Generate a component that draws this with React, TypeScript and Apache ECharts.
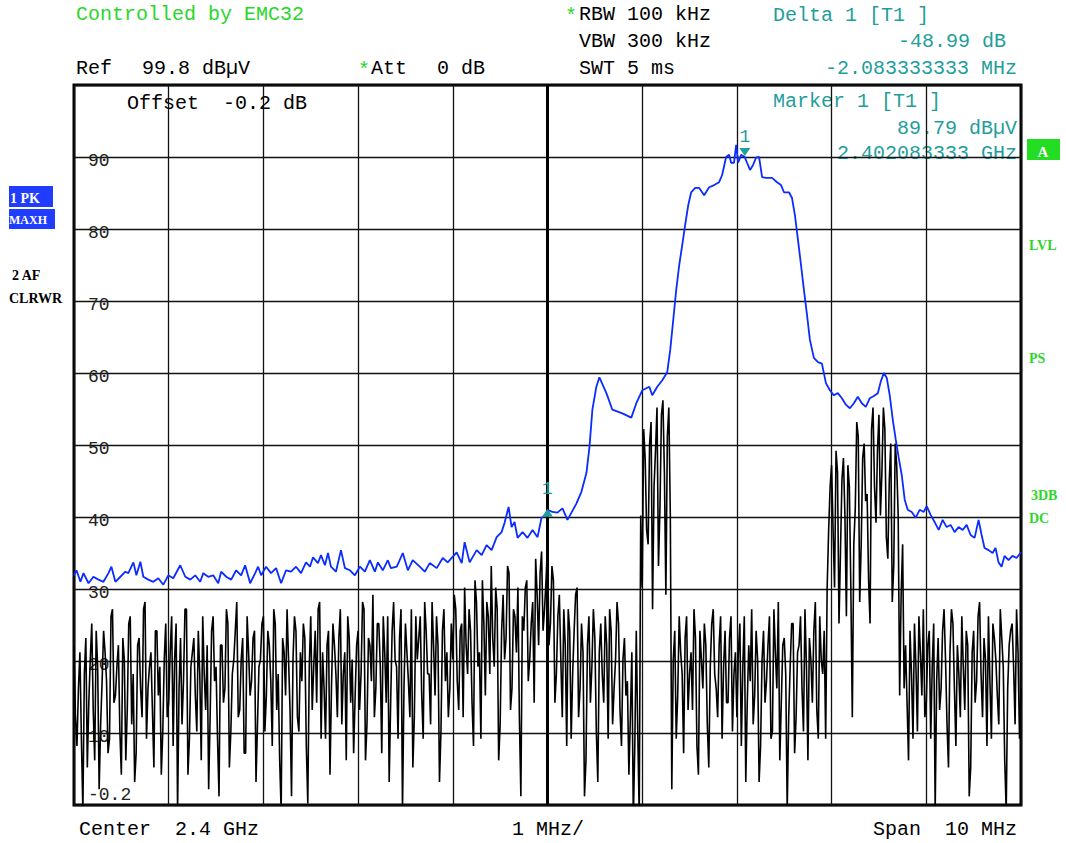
import React, { useEffect, useRef } from 'react';
import * as echarts from 'echarts';

const MONO = '"Liberation Mono", "DejaVu Sans Mono", monospace';
const GREEN = '#2bd62b';
const TEAL = '#1f9e9c';
const BLUE = '#0a2cff';

// Trace 1 (PK, MAXH) — frequency offset from centre in MHz, level in dBµV
const blueFreqMHz = [
  -5.0, -4.974, -4.932, -4.9, -4.847, -4.795, -4.742, -4.689, -4.636, -4.605, -4.563, -4.51, -4.457, -4.426,
  -4.373, -4.341, -4.299, -4.268, -4.215, -4.162, -4.11, -4.057, -4.004, -3.952, -3.878, -3.825, -3.772, -3.72,
  -3.667, -3.635, -3.583, -3.53, -3.477, -3.446, -3.393, -3.34, -3.288, -3.235, -3.193, -3.14, -3.087, -3.056,
  -3.024, -2.972, -2.919, -2.866, -2.813, -2.761, -2.708, -2.655, -2.603, -2.55, -2.508, -2.476, -2.424, -2.392,
  -2.35, -2.318, -2.287, -2.234, -2.181, -2.139, -2.086, -2.034, -1.981, -1.928, -1.876, -1.823, -1.791, -1.739,
  -1.686, -1.654, -1.591, -1.528, -1.475, -1.423, -1.349, -1.296, -1.243, -1.17, -1.106, -1.054, -0.959, -0.906,
  -0.875, -0.822, -0.748, -0.695, -0.643, -0.59, -0.537, -0.485, -0.453, -0.411, -0.379, -0.348, -0.316, -0.263,
  -0.211, -0.158, -0.105, -0.063, -0.011, 0.0, 0.053, 0.105, 0.158, 0.211, 0.253, 0.306, 0.358, 0.411, 0.443,
  0.474, 0.516, 0.548, 0.622, 0.685, 0.79, 0.885, 0.938, 1.001, 1.075, 1.106, 1.159, 1.212, 1.264, 1.296, 1.328,
  1.359, 1.391, 1.423, 1.454, 1.486, 1.517, 1.56, 1.602, 1.654, 1.707, 1.76, 1.812, 1.844, 1.886, 1.918, 1.939,
  1.97, 1.992, 2.013, 2.044, 2.083, 2.107, 2.139, 2.171, 2.202, 2.234, 2.266, 2.308, 2.371, 2.424, 2.466, 2.497,
  2.55, 2.582, 2.613, 2.645, 2.677, 2.708, 2.74, 2.771, 2.813, 2.856, 2.898, 2.94, 2.982, 3.024, 3.066, 3.109,
  3.151, 3.193, 3.235, 3.277, 3.319, 3.361, 3.404, 3.446, 3.488, 3.519, 3.551, 3.583, 3.614, 3.646, 3.678, 3.709,
  3.741, 3.772, 3.804, 3.846, 3.888, 3.93, 3.973, 4.004, 4.046, 4.088, 4.131, 4.173, 4.215, 4.257, 4.299, 4.341,
  4.384, 4.426, 4.468, 4.51, 4.552, 4.584, 4.615, 4.658, 4.7, 4.731, 4.763, 4.795, 4.826, 4.868, 4.91, 4.953, 5.0,
];
const blueLevel = [
  31.7, 32.4, 30.8, 32.0, 30.6, 31.5, 31.1, 30.8, 32.0, 32.9, 30.8, 31.5, 32.2, 32.0,
  33.5, 31.7, 33.6, 31.5, 31.1, 30.8, 31.3, 30.4, 31.7, 31.3, 33.1, 31.5, 31.1, 31.7,
  30.8, 32.0, 31.5, 31.7, 30.6, 32.2, 31.5, 31.1, 32.4, 31.7, 33.1, 30.6, 32.0, 32.9,
  31.7, 32.9, 32.0, 32.7, 30.6, 32.4, 32.2, 32.9, 32.0, 33.5, 32.9, 34.2, 33.4, 34.5,
  33.1, 34.8, 32.9, 32.2, 35.2, 32.7, 32.4, 31.7, 32.9, 32.2, 33.8, 32.2, 33.5, 32.4,
  33.8, 32.7, 32.9, 34.8, 32.4, 33.8, 32.9, 32.2, 33.4, 32.7, 34.1, 33.5, 34.9, 33.4,
  36.3, 33.5, 35.2, 34.5, 35.9, 35.2, 37.0, 37.7, 39.0, 41.2, 38.4, 39.1, 36.9, 37.7,
  36.9, 38.0, 37.0, 39.7, 40.1, 40.8, 40.5, 40.4, 41.0, 39.4, 40.4, 41.7, 43.3, 45.9, 49.5,
  54.7, 57.9, 59.2, 57.0, 54.7, 54.2, 53.6, 55.6, 57.4, 57.9, 56.7, 57.9, 58.8, 59.9, 63.0, 67.2,
  71.3, 74.8, 77.6, 80.4, 83.1, 84.9, 85.5, 85.5, 84.5, 85.6, 85.9, 86.3, 87.3, 89.8, 90.1, 89.0,
  89.0, 91.5, 89.0, 90.1, 89.79, 89.0, 88.0, 88.7, 89.7, 89.8, 87.0, 86.9, 86.9, 86.3, 85.9, 84.9,
  84.9, 84.1, 81.7, 78.3, 74.8, 71.3, 67.9, 64.4, 61.9, 61.3, 61.1, 58.4, 57.4, 56.7, 57.0, 56.3,
  55.4, 54.9, 55.6, 56.5, 55.6, 55.1, 56.3, 56.6, 57.0, 58.6, 59.8, 59.1, 56.7, 53.3, 50.5, 48.0,
  45.6, 42.2, 40.8, 40.5, 39.7, 40.8, 40.5, 41.3, 40.1, 39.1, 38.0, 39.4, 38.4, 38.7, 37.7, 38.4,
  38.0, 38.7, 37.3, 36.9, 39.4, 37.3, 35.5, 35.2, 34.8, 35.5, 33.5, 32.9, 34.4, 33.8, 34.4, 34.1, 34.9,
];

// Trace 2 (AF, CLRWR) — levels in dBµV. Even sweep points (321, from -5 to +5 MHz)...
const blackLevelEven = [
  22, 8, 21, -1, 23, 14, 25, 6, 19, 11, 24, 17, 9, 27, 15, 22, 4, 20, 13, 26, 18, 7, 23, 12, 28, 16, 21, 5, 24, 19, 10, 25,
  14, 26, 20, -1, 23, 17, 27, 9, 21, 15, 24, 6, 18, 22, 12, 26, 19, 1, 22, 16, 25, 10, 20, 28, 13, 23, 7, 21, 17, 24, 11, 20,
  26, 15, 22, 8, 25, 18, -1, 21, 27, 13, 20, 24, 10, 17, 23, 0, 26, 19, 14, 28, 21, 9, 24, 16, 22, 12, 27, 18, 6, 23, 20, 15,
  24, 18, 27, 11, 22, 29, 16, 25, 7, 21, 26, 14, 28, 19, 23, -1, 25, 17, 27, 12, 20, 26, 9, 24, 18, 28, 15, 22, 10, 27, 21, 16,
  20, 27, 13, 25, 30, 18, 24, 8, 28, 21, 31, 15, 26, 33, 19, 27, 11, 29, 23, 32, 16, 26, 30, 1, 24, 31, 20, 28, 34, 22, 35, 27,
  36, 25, 31, 18, 29, 12, 22, 27, 9, 24, 30, 16, 21, 6, 26, 19, 23, 3, 25, 14, 22, 27, 11, 20, 25, 8, 23, 17, 12, -2, 24, -2,
  30, 48, 36, 53, 44, 55, 41, 56, 29, 55, 2, 24, 15, 21, 7, 26, 18, 13, 23, 4, 20, 25, 11, 19, 27, 16, 22, 9, 24, 14, 26, 18,
  12, 25, 19, 3, 22, 27, 15, 20, 8, 24, 17, 26, 10, 21, 28, 14, 23, -1, 19, 25, 12, 22, 16, 27, 6, 20, 24, 13, 26, 18, 9, 38,
  47, 30, 46, 35, 48, 26, 44, 12, 41, 51, 36, 50, 43, 25, 55, 39, 54, 46, 52, 34, 50, 33, 47, 15, 36, 22, 6, 18, 25, 10, 21, 27,
  14, 24, 19, -1, 23, 16, 27, 11, 21, 25, 8, 18, 26, 13, 22, 5, 24, 17, 28, 12, 20, 26, 9, 23, 15, 27, 19, -1, 22, 25, 11, 21, 16,
];
// ...and the odd sweep points (320) that lie between them
const blackLevelOdd = [
  12, 16, 9, 18, 5, 20, 13, 24, 2, 17, 21, 7, 26, 14, 19, 10, 23, 6, 25, 11, 3, 22, 16, 27, 9, 19, 13, 24, 15, 4, 20, 12,
  21, 8, 25, 16, 11, 27, 4, 19, 23, 10, 18, 26, 13, 2, 24, 17, 9, 22, 14, 27, 5, 18, 24, 12, 20, 7, 26, 15, 23, 3, 19, 25,
  10, 24, 17, 27, 13, 6, 23, 15, 20, 1, 26, 12, 21, 25, 8, 19, 13, 24, 27, 9, 16, 22, 4, 25, 18, 23, 11, 21, 26, 14, 7, 22,
  13, 28, 6, 23, 17, 12, 25, 19, 26, 14, 3, 24, 20, 9, 27, 16, 21, 12, 5, 26, 23, 15, 28, 18, 11, 22, 26, 3, 24, 17, 12, 25,
  29, 17, 24, 12, 22, 27, 14, 31, 19, 9, 25, 28, 18, 23, 30, 6, 24, 20, 33, 13, 27, 21, 12, 26, 30, 17, 25, 14, 29, 32, 24, 31,
  22, 33, 14, 26, 20, 27, 8, 24, 18, 29, 12, 25, 1, 22, 14, 27, 10, 21, 18, 26, 9, 24, 16, 28, 13, 20, 15, 4, 21, 8, 10, 40,
  52, 38, 50, 27, 49, 33, 54, 46, 51, 40, 20, 9, 26, 18, 23, 13, 21, 27, 8, 24, 16, 22, 5, 25, 18, 12, 26, 19, 14, 23, 10, 21,
  21, 8, 26, 14, 17, 11, 24, 3, 20, 14, 22, 9, 27, 16, 6, 22, 18, 12, 25, 7, 21, 26, 10, 19, 23, 14, 28, 9, 20, 24, 30, 44,
  38, 49, 25, 45, 40, 47, 30, 36, 53, 28, 48, 42, 31, 52, 44, 49, 40, 55, 37, 45, 28, 50, 40, 29, 16, 14, 24, 9, 19, 26, 15, 12,
  22, 9, 25, 17, 13, 24, 20, 5, 27, 16, 22, 12, 19, 24, 1, 21, 14, 26, 18, 23, 8, 17, 25, 20, 11, 23, 6, 16, 24, 19, 27, 9,
];

const spanMHz = 10;
const refLevel = 99.8;
const bottomLevel = -0.2;
const yTickLabels = ['-0.2', '10', '20', '30', '40', '50', '60', '70', '80', '90', ''];
const marker1 = [2.083333333, 89.79];
const delta1 = [2.083333333 - 2.083333333, 89.79 - 48.99];

const texts: { t: string; x: number; y: number; c?: string; a?: string }[] = [
  { t: 'Controlled by EMC32', x: 76, y: 14, c: GREEN },
  { t: '*', x: 565, y: 16, c: GREEN },
  { t: 'RBW 100 kHz', x: 579, y: 14 },
  { t: 'VBW 300 kHz', x: 579, y: 41 },
  { t: 'SWT 5 ms', x: 579, y: 68 },
  { t: 'Ref', x: 76, y: 68 },
  { t: '99.8 dBµV', x: 142, y: 68 },
  { t: '*', x: 358, y: 70, c: GREEN },
  { t: 'Att', x: 371, y: 68 },
  { t: '0 dB', x: 437, y: 68 },
  { t: 'Delta 1 [T1 ]', x: 773, y: 15, c: TEAL },
  { t: '-48.99 dB', x: 1006, y: 41, c: TEAL, a: 'right' },
  { t: '-2.083333333 MHz', x: 1017, y: 68, c: TEAL, a: 'right' },
  { t: 'Marker 1 [T1 ]', x: 773, y: 101, c: TEAL },
  { t: '89.79 dBµV', x: 1017, y: 128, c: TEAL, a: 'right' },
  { t: '2.402083333 GHz', x: 1017, y: 153, c: TEAL, a: 'right' },
  { t: 'Offset  -0.2 dB', x: 127, y: 103 },
  { t: 'Center  2.4 GHz', x: 79, y: 829 },
  { t: '1 MHz/', x: 512, y: 829 },
  { t: 'Span  10 MHz', x: 1017, y: 829, a: 'right' },
];

const SMALL = 'bold 14px "Liberation Serif", serif';

export default function App() {
  const ref = useRef<HTMLDivElement>(null);
  useEffect(() => {
    const chart = echarts.init(ref.current!, null, { renderer: 'svg' });
    const blueData = blueFreqMHz.map((f, i) => [f, blueLevel[i]]);
    const nPts = blackLevelEven.length + blackLevelOdd.length;
    const step = spanMHz / (nPts - 1);
    const blackData: number[][] = [];
    blackLevelEven.forEach((v, i) => {
      blackData.push([-spanMHz / 2 + 2 * i * step, v]);
      if (i < blackLevelOdd.length) blackData.push([-spanMHz / 2 + (2 * i + 1) * step, blackLevelOdd[i]]);
    });

    const graphic: any[] = texts.map((d) => ({
      type: 'text',
      silent: true,
      style: {
        text: d.t,
        x: d.x,
        y: d.y,
        fill: d.c || '#000',
        font: `20px ${MONO}`,
        textAlign: d.a || 'left',
        textVerticalAlign: 'middle',
      },
    }));
    graphic.push(
      { type: 'rect', shape: { x: 9, y: 186, width: 44, height: 21 }, style: { fill: '#1f3cff' } },
      { type: 'text', style: { text: '1 PK', x: 10, y: 198, fill: '#fff', font: SMALL, textVerticalAlign: 'middle' } },
      { type: 'rect', shape: { x: 9, y: 209, width: 46, height: 20 }, style: { fill: '#1f3cff' } },
      { type: 'text', style: { text: 'MAXH', x: 9, y: 220, fill: '#fff', font: 'bold 12px "Liberation Serif", serif', textVerticalAlign: 'middle' } },
      { type: 'text', style: { text: '2 AF', x: 12, y: 275, fill: '#000', font: SMALL, textVerticalAlign: 'middle' } },
      { type: 'text', style: { text: 'CLRWR', x: 9, y: 298, fill: '#000', font: SMALL, textVerticalAlign: 'middle' } },
      { type: 'rect', shape: { x: 1027, y: 139, width: 33, height: 21 }, style: { fill: '#22dd22' } },
      { type: 'text', style: { text: 'A', x: 1043, y: 152, fill: '#fff', font: 'bold 15px "Liberation Serif", serif', textAlign: 'center', textVerticalAlign: 'middle' } },
      { type: 'text', style: { text: 'LVL', x: 1029, y: 245, fill: GREEN, font: SMALL, textVerticalAlign: 'middle' } },
      { type: 'text', style: { text: 'PS', x: 1029, y: 358, fill: GREEN, font: SMALL, textVerticalAlign: 'middle' } },
      { type: 'text', style: { text: '3DB', x: 1031, y: 495, fill: GREEN, font: SMALL, textVerticalAlign: 'middle' } },
      { type: 'text', style: { text: 'DC', x: 1029, y: 518, fill: GREEN, font: SMALL, textVerticalAlign: 'middle' } },
    );

    const markerLabel = (dist: number) => ({
      show: true,
      formatter: '1',
      position: 'top',
      distance: dist,
      color: TEAL,
      fontFamily: MONO,
      fontSize: 18,
    });

    chart.setOption({
      animation: false,
      backgroundColor: '#fff',
      grid: {
        left: 74, right: 45, top: 85, bottom: 38,
        show: true, borderColor: '#000', borderWidth: 3, backgroundColor: 'transparent',
      },
      xAxis: {
        type: 'value', min: -spanMHz / 2, max: spanMHz / 2, interval: 1,
        axisLine: { show: false }, axisTick: { show: false }, axisLabel: { show: false },
        splitLine: { show: true, lineStyle: { color: '#111', width: 1.3 } },
      },
      yAxis: {
        type: 'value', min: bottomLevel, max: refLevel, interval: 10,
        axisLine: { show: false }, axisTick: { show: false },
        splitLine: { show: true, lineStyle: { color: '#111', width: 1.3 } },
        axisLabel: {
          inside: true,
          margin: 14,
          formatter: (v: number) => {
            const idx = Math.round((v - bottomLevel) / 10);
            const s = yTickLabels[idx];
            if (!s) return '';
            return idx === 0 ? `{lo|${s}}` : `{n|${s}}`;
          },
          rich: {
            n: { fontFamily: MONO, fontSize: 18, color: '#222', padding: [8, 0, 0, 0] },
            lo: { fontFamily: MONO, fontSize: 18, color: '#222', padding: [0, 0, 20, 0] },
          },
        },
      },
      graphic,
      series: [
        {
          type: 'line',
          data: blackData,
          showSymbol: false,
          symbol: 'none',
          clip: true,
          lineStyle: { color: '#000', width: 1.6 },
          z: 2,
          markLine: {
            silent: true,
            symbol: ['none', 'none'],
            label: { show: false },
            lineStyle: { color: '#000', width: 3, type: 'solid' },
            data: [{ xAxis: 0 }],
          },
        },
        {
          type: 'line',
          data: blueData,
          showSymbol: false,
          symbol: 'none',
          clip: true,
          lineStyle: { color: BLUE, width: 1.8 },
          z: 3,
          markPoint: {
            silent: true,
            data: [
              {
                coord: marker1,
                symbol: 'path://M0,0 L10,0 L5,8 Z',
                symbolSize: [11, 8],
                symbolOffset: [0, -5],
                itemStyle: { color: TEAL },
                label: markerLabel(2),
              },
              {
                coord: delta1,
                symbol: 'path://M5,0 L10,8 L0,8 Z',
                symbolSize: [11, 8],
                symbolOffset: [0, 3],
                itemStyle: { color: TEAL },
                label: markerLabel(11),
              },
            ],
          },
        },
      ],
    });
    return () => chart.dispose();
  }, []);
  return (
    <div
      ref={ref}
      style={{ position: 'absolute', left: 0, top: 0, width: 1066, height: 843, background: '#fff' }}
    />
  );
}
